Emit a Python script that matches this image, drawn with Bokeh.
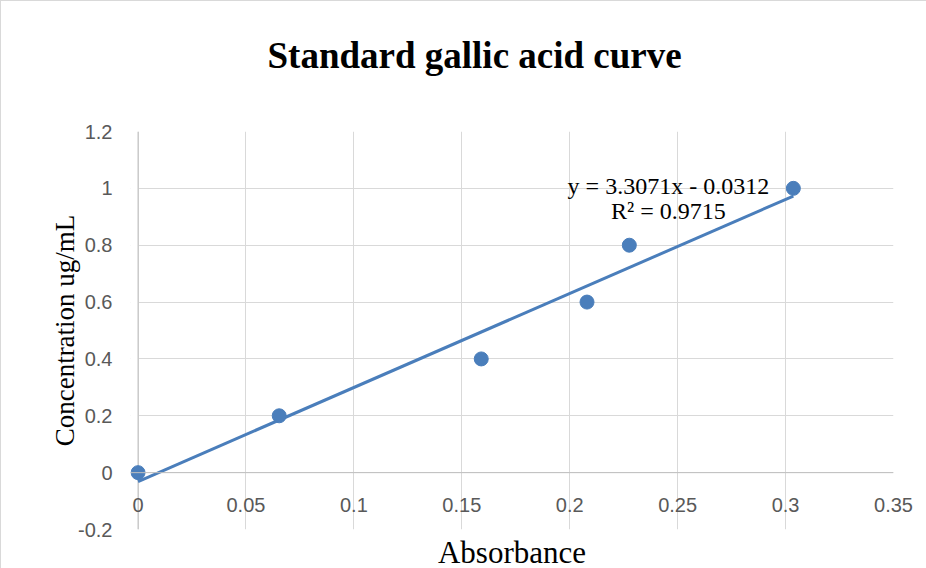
import numpy as np
from bokeh.plotting import figure
from bokeh.models import Label, FixedTicker, Span, Title, BoxAnnotation
from bokeh.embed import file_html
from bokeh.resources import INLINE

# ---- data ----
absorbance = [0.0, 0.0654, 0.159, 0.208, 0.2276, 0.3036]
concentration = [0.0, 0.2, 0.4, 0.6, 0.8, 1.0]
slope = 3.3071
intercept = -0.0312
r_squared = 0.9715
x_ticks = [0, 0.05, 0.1, 0.15, 0.2, 0.25, 0.3, 0.35]
x_tick_labels = ["0", "0.05", "0.1", "0.15", "0.2", "0.25", "0.3", "0.35"]
y_ticks = [-0.2, 0, 0.2, 0.4, 0.6, 0.8, 1.0, 1.2]
y_tick_labels = ["-0.2", "0", "0.2", "0.4", "0.6", "0.8", "1", "1.2"]
title_text = "Standard gallic acid curve"
x_title = "Absorbance"
y_title = "Concentration ug/mL"

BLUE = "#4a7ebb"
GRID = "#d9d9d9"
AXIS = "#bfbfbf"
TICK_FONT = "'Liberation Sans', Arial, sans-serif"
SERIF = "'Liberation Serif', 'Times New Roman', serif"

# a little room left of x = 0 so the first marker is not cut in half
p = figure(frame_width=763, frame_height=398,
           x_range=(-0.0035, 0.35), y_range=(-0.2, 1.2),
           output_backend="svg", toolbar_location=None,
           min_border_left=129, min_border_right=34,
           min_border_top=130, min_border_bottom=38,
           styles={"border-top": f"1px solid {GRID}",
                   "border-left": f"1px solid {GRID}"})
p.outline_line_color = None
p.background_fill_color = "white"
p.border_fill_color = "white"

# chart title (an empty second line lifts it away from the plot area)
p.title = Title(text=title_text + "\n", align="left", offset=137,
                vertical_align="bottom", standoff=30,
                text_font=SERIF, text_font_size="37px",
                text_font_style="bold", text_color="black")

# x axis (labels drawn up between 0 and -0.2 like the original)
p.xaxis.ticker = FixedTicker(ticks=x_ticks)
p.xaxis.major_label_overrides = {t: l for t, l in zip(x_ticks, x_tick_labels)}
p.xaxis.major_tick_line_color = None
p.xaxis.minor_tick_line_color = None
p.xaxis.axis_line_color = None
p.xaxis.major_label_standoff = -38
p.xaxis.major_label_text_font = TICK_FONT
p.xaxis.major_label_text_font_size = "20px"
p.xaxis.major_label_text_color = "#595959"

p.add_layout(Title(text=x_title, align="center", vertical_align="top",
                   standoff=10, text_font=SERIF, text_font_size="31px",
                   text_font_style="normal", text_color="black"), "below")

# y axis
p.yaxis.ticker = FixedTicker(ticks=y_ticks)
p.yaxis.major_label_overrides = {t: l for t, l in zip(y_ticks, y_tick_labels)}
p.yaxis.major_tick_line_color = None
p.yaxis.minor_tick_line_color = None
p.yaxis.axis_line_color = None
p.yaxis.major_label_standoff = 12
p.yaxis.major_label_text_font = TICK_FONT
p.yaxis.major_label_text_font_size = "20px"
p.yaxis.major_label_text_color = "#595959"
p.yaxis.axis_label = y_title
p.yaxis.axis_label_text_font = SERIF
p.yaxis.axis_label_text_font_size = "27px"
p.yaxis.axis_label_text_font_style = "normal"
p.yaxis.axis_label_text_color = "black"
p.yaxis.axis_label_standoff = -5

# grids
p.xgrid.ticker = FixedTicker(ticks=x_ticks)
p.ygrid.ticker = FixedTicker(ticks=y_ticks)
p.xgrid.grid_line_color = GRID
p.ygrid.grid_line_color = GRID
p.add_layout(Span(location=0, dimension="width", line_color=AXIS, line_width=1))
# mask the grid stubs left of the x = 0 axis
p.add_layout(BoxAnnotation(right=0, fill_color="white", fill_alpha=1.0,
                           line_color=None, level="underlay"))
p.add_layout(Span(location=0, dimension="height", line_color=AXIS, line_width=1,
                  level="underlay"))

# trendline
x_fit = np.array([0.0, max(absorbance)])
y_fit = slope * x_fit + intercept
p.line(x_fit, y_fit, line_color=BLUE, line_width=3)

# points
p.scatter(absorbance, concentration, size=14, fill_color=BLUE, line_color=BLUE)

# equation
eq1 = f"y = {slope}x - {abs(intercept)}"
eq2 = f"R\u00b2 = {r_squared}"
p.add_layout(Label(x=0.2457, y=1.009, text=eq1, text_align="center",
                   text_baseline="middle", text_font=SERIF,
                   text_font_size="24px", text_color="black"))
p.add_layout(Label(x=0.2457, y=0.921, text=eq2, text_align="center",
                   text_baseline="middle", text_font=SERIF,
                   text_font_size="24px", text_color="black"))

open("out.html", "w").write(file_html(p, INLINE))
